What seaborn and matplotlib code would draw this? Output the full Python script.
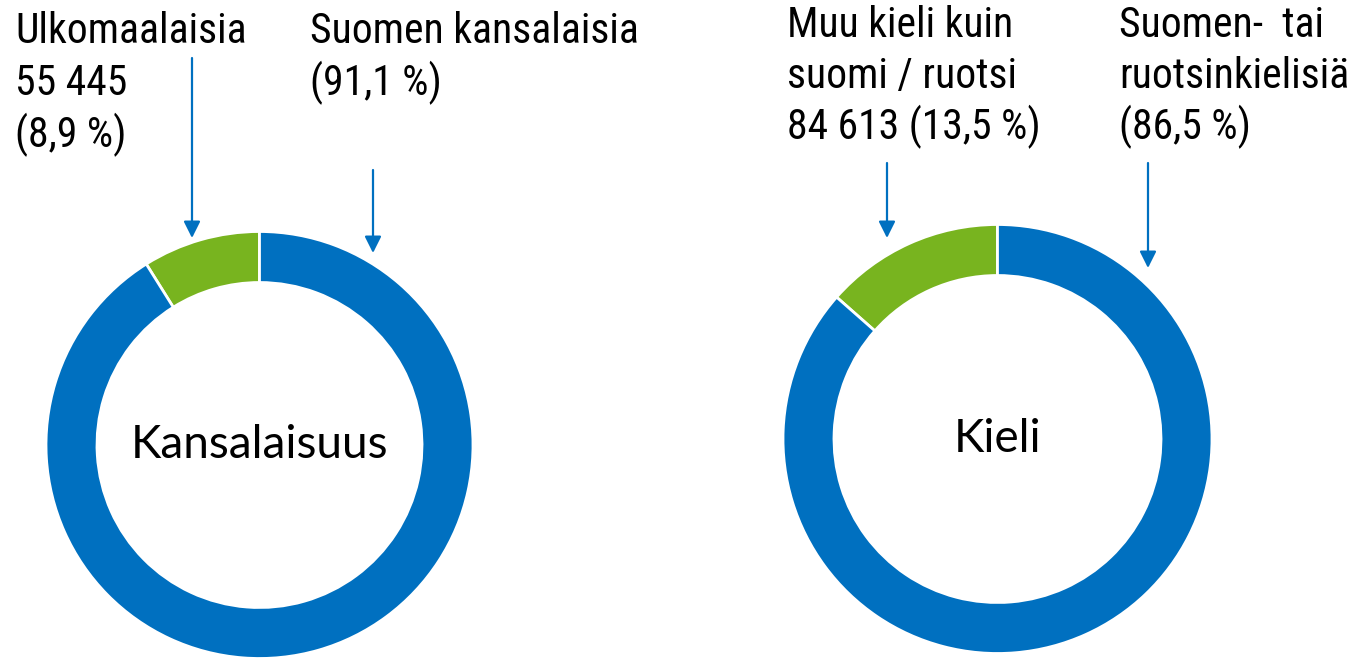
import matplotlib
matplotlib.use("Agg")
import matplotlib.pyplot as plt
from matplotlib import font_manager
import seaborn as sns

# Data
kansalaisuus_ryhmat = ["Ulkomaalaisia", "Suomen kansalaisia"]
kansalaisuus_osuus = [8.9, 91.1]
kansalaisuus_tekstit = [["Ulkomaalaisia", "55 445", "(8,9 %)"],
                        ["Suomen kansalaisia", "(91,1 %)"]]

kieli_ryhmat = ["Muu kieli kuin suomi / ruotsi", "Suomen- tai ruotsinkielisiä"]
kieli_osuus = [13.5, 86.5]
kieli_tekstit = [["Muu kieli kuin", "suomi / ruotsi", "84 613 (13,5 %)"],
                 ["Suomen-  tai", "ruotsinkielisiä", "(86,5 %)"]]

otsikot = ["Kansalaisuus", "Kieli"]

sns.set_theme(style="white")
varit = ["#78B41F", "#0070C0"]
nuoli_vari = "#0070C0"

asennetut = {f.name for f in font_manager.fontManager.ttflist}
def eka(ehdokkaat):
    for nimi in ehdokkaat:
        if nimi in asennetut:
            return nimi
    return "DejaVu Sans"

label_font = eka(["Liberation Sans Narrow", "Roboto Condensed", "Open Sans Condensed", "Lato", "Liberation Sans"])
center_font = eka(["Lato", "Open Sans"])

W, H = 1364, 659
fig = plt.figure(figsize=(W / 100, H / 100), dpi=100)
ax = fig.add_axes([0, 0, 1, 1])

# layout in image pixels (y from top)
keskukset = [(259.5, 445), (997.5, 439)]
sade = [213.5, 214.5]
rengas = 51
tekstit_xy = [[(15, 43), (310, 43)], [(787, 37), (1119, 37)]]
rivivali = [52, 51]
nuolet = [[(192, 58, 238), (373, 170, 253)], [(887, 163, 238), (1148, 163, 268)]]

for i, (osuus, tekstit) in enumerate([(kansalaisuus_osuus, kansalaisuus_tekstit),
                                      (kieli_osuus, kieli_tekstit)]):
    cx, cy = keskukset[i]
    ax.pie(osuus, colors=varit, startangle=90, counterclock=True,
           center=(cx, H - cy), radius=sade[i], frame=True,
           wedgeprops=dict(width=rengas, edgecolor="white", linewidth=2))
    ax.text(cx, H - cy, otsikot[i], ha="center", va="center",
            fontsize=33, family=center_font, color="black")
    for (tx, ty), rivit in zip(tekstit_xy[i], tekstit):
        for k, rivi in enumerate(rivit):
            ax.text(tx, H - ty - k * rivivali[i], rivi, ha="left", va="baseline",
                    fontsize=30, family=label_font, color="black")
    for x, y0, y1 in nuolet[i]:
        ax.annotate("", xy=(x, H - y1), xytext=(x, H - y0),
                    arrowprops=dict(arrowstyle="-|>,head_length=1.0,head_width=0.5",
                                    color=nuoli_vari, lw=1.6, shrinkA=0, shrinkB=0,
                                    mutation_scale=10))

ax.set_xlim(0, W)
ax.set_ylim(0, H)
ax.set_aspect("equal")
ax.axis("off")
fig.savefig("out.png", dpi=100, facecolor="white")
